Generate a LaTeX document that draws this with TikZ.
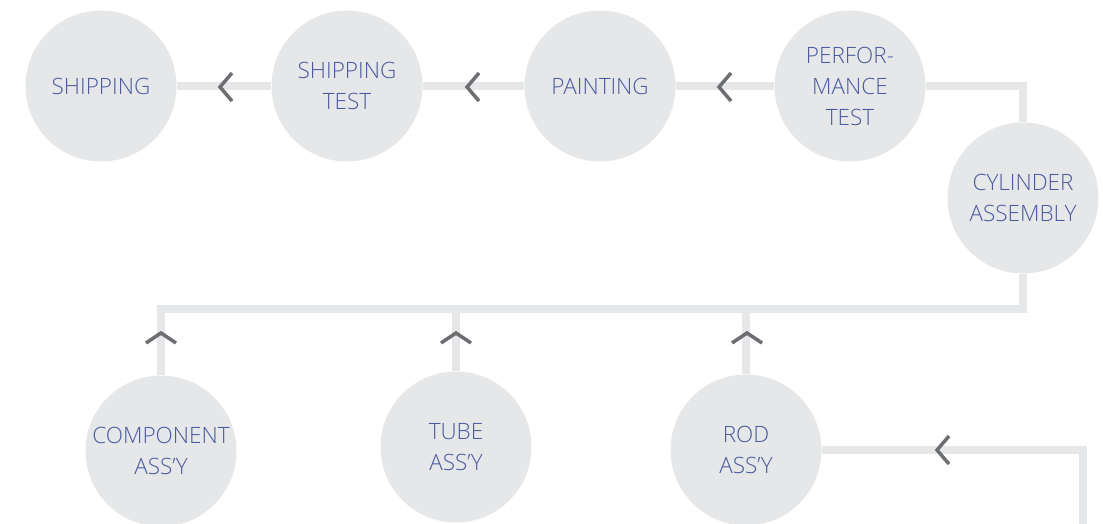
\documentclass[tikz,border=0pt]{standalone}
\usepackage{fontspec}
\setmainfont{Open Sans Light}
\usetikzlibrary{calc}

\definecolor{stepgray}{HTML}{E6E7E8}
\definecolor{chevgray}{HTML}{6D6E71}
\definecolor{stepblue}{RGB}{74,90,160}

\tikzset{
	stage/.style={circle, fill=stepgray, minimum size=151pt, inner sep=0pt, align=center,
		text=stepblue, font=\fontsize{22.5}{31}\selectfont},
	conn/.style={draw=stepgray, line width=7.5pt},
	chev/.style={draw=chevgray, line width=3.5pt}
}

\begin{document}
\begin{tikzpicture}[x=1pt,y=-1pt]

	\useasboundingbox (0,0) rectangle (1103,523);

	%stages, top row
	\node[stage] (ship) at (101,86) {SHIPPING};
	\node[stage] (shiptest) at (347,86) {SHIPPING\\TEST};
	\node[stage] (paint) at (600,86) {PAINTING};
	\node[stage] (perf) at (850,86) {PERFOR-\\MANCE\\TEST};
	\node[stage] (cyl) at (1023,198) {CYLINDER\\ASSEMBLY};

	%sub assemblies, bottom row
	\node[stage] (comp) at (161,451) {COMPONENT\\ASS'Y};
	\node[stage] (tube) at (456,447) {TUBE\\ASS'Y};
	\node[stage] (rod) at (746,450) {ROD\\ASS'Y};

	%helper points
	\coordinate (bus) at (161,309);
	\coordinate (feed) at (1083,530);

	%lines
	\draw[conn] (ship) -- (shiptest);
	\draw[conn] (shiptest) -- (paint);
	\draw[conn] (paint) -- (perf);
	\draw[conn] (perf) -| (cyl);
	\draw[conn] (cyl) |- (bus) -- (comp);
	\draw[conn] (tube) -- (tube |- bus);
	\draw[conn] (rod) -- (rod |- bus);
	\draw[conn] (rod) -| (feed);

	%chevrons
	\foreach \x in {220,467,719}
		\draw[chev] (\x+12,73) -- (\x,87) -- (\x+12,101);
	\draw[chev] (949,436) -- (937,450) -- (949,464);
	\foreach \x in {161,456,747}
		\draw[chev] (\x-15,343) -- (\x,333) -- (\x+15,343);

\end{tikzpicture}
\end{document}
